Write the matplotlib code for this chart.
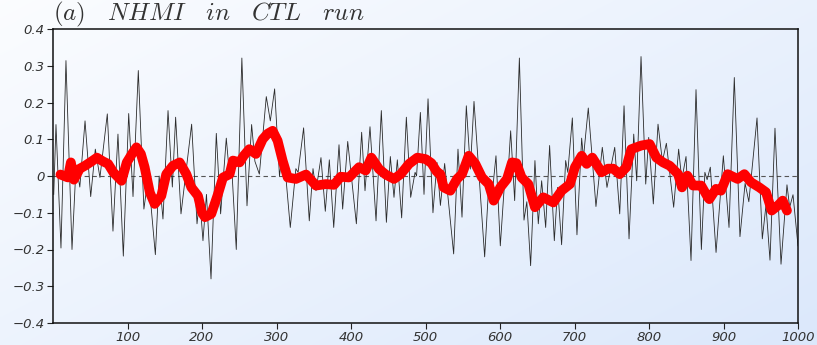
import matplotlib
matplotlib.use("Agg")
import matplotlib.pyplot as plt
import numpy as np

# NHMI in CTL run: turning points of the annual series
ctl_years = [1, 4, 10.7, 17.4, 25.5, 31, 36, 43, 50.6, 56.8, 63, 72.9, 80.5, 87.2,
             94.4, 101.6, 107.4, 114.5, 122, 128, 137.4, 142.5, 147.6, 154.4, 160.2,
             164.6, 171.8, 179, 186.1, 193.3, 197, 201.3, 206, 212.1, 219.2, 225,
             232.6, 237, 240, 246, 253.5, 260.4, 266.6, 271, 277, 286.3, 291.7, 297.5,
             304, 309, 318.5, 326, 329, 336.4, 344, 349, 353, 359.7, 365.5, 370.9,
             376.8, 383.9, 388.8, 395.6, 407.2, 414.3, 418.8, 425.5, 433.6, 440.7,
             447.5, 452.8, 457.7, 462.2, 468, 474.3, 480.1, 486, 488, 493.1, 498,
             503.4, 510, 515.4, 520, 525.7, 537.8, 543.6, 549, 554.8, 560.2, 565.1,
             579.4, 585, 589, 594.6, 600.4, 607, 610, 614.3, 619.7, 626, 632.2, 636,
             641.1, 646.9, 651.4, 655.9, 661.3, 666.6, 672.9, 677.4, 682.7, 688.1,
             691, 697.1, 703.3, 709.6, 712, 718.5, 728.8, 737.3, 743.6, 754, 760.7,
             766.5, 773.2, 779.5, 783.5, 789.3, 795.6, 799.6, 805.8, 812.1, 818,
             823.3, 833.1, 839.8, 844, 849.7, 856.4, 863.1, 870.3, 875, 878, 882.3,
             890, 899.8, 907.4, 914.5, 922.1, 929, 934, 945, 952.1, 957, 962.4,
             969.1, 977.2, 985.2, 988.8, 993.3, 1000]
ctl_vals = [-0.05, 0.14, -0.196, 0.314, -0.2, 0.03, -0.03, 0.15, -0.056, 0.073, -0.004,
            0.169, -0.15, 0.114, -0.218, 0.17, -0.056, 0.287, -0.09, 0.0, -0.214, 0.0,
            -0.117, 0.178, -0.03, 0.16, -0.103, 0.02, 0.141, -0.13, -0.06, -0.176,
            -0.05, -0.28, 0.116, -0.103, 0.103, 0.0, 0.02, -0.2, 0.321, -0.081, 0.14,
            0.04, 0.005, 0.216, 0.15, 0.237, 0.0, 0.08, -0.14, 0.02, 0.01, 0.131,
            -0.122, 0.02, -0.04, 0.05, -0.096, 0.044, -0.14, 0.085, -0.09, 0.094,
            -0.13, 0.119, -0.04, 0.134, -0.122, 0.178, -0.126, 0.053, -0.058, 0.044,
            -0.114, 0.16, -0.058, 0.01, 0.0, 0.173, -0.05, 0.21, -0.1, 0.037, -0.08,
            0.034, -0.212, 0.073, -0.112, 0.191, 0.019, 0.203, -0.22, -0.02, -0.06,
            0.055, -0.19, 0.01, -0.02, 0.123, -0.067, 0.321, -0.12, -0.07, -0.244,
            0.042, -0.13, -0.013, -0.14, 0.083, -0.176, -0.031, -0.187, 0.042, 0.01,
            0.158, -0.16, 0.103, 0.05, 0.185, -0.083, 0.078, -0.031, 0.078, -0.103,
            0.191, -0.171, 0.114, -0.013, 0.325, -0.022, 0.105, -0.076, 0.141, 0.04,
            0.089, -0.085, 0.073, -0.01, 0.053, -0.23, 0.235, -0.2, 0.01, -0.01,
            0.024, -0.208, 0.055, -0.14, 0.268, -0.165, -0.02, -0.07, 0.158, -0.171,
            -0.08, -0.229, 0.13, -0.24, -0.024, -0.085, -0.051, -0.19]

# low-pass filtered index (thick red curve)
smooth_years = [10, 20, 24, 28, 36, 43, 52, 59, 67, 74, 81, 92, 99, 106, 112, 118, 123,
                130, 136.5, 145.4, 152, 161, 170, 179, 185.7, 194.6, 200, 204, 212.5,
                221.5, 228.2, 237.1, 241.6, 250.5, 256, 263.5, 272.4, 281.4, 288, 294.8,
                301.5, 308.2, 315, 326.1, 339.6, 353, 366.4, 377.2, 386.2, 397.3, 410.8,
                419.7, 427.3, 437.6, 446.6, 457.7, 466.7, 477.9, 489, 500.2, 508, 515,
                519.9, 524.4, 533.3, 542.3, 549, 558, 566.9, 575.8, 584.8, 591.5, 600.4,
                609.4, 616.1, 622, 629, 638, 646.9, 658.1, 671.6, 682.7, 693.9, 700.6,
                709.6, 716.3, 723.9, 736.4, 745, 752, 760.7, 769.6, 776.3, 789.7, 800.9,
                809.9, 818.8, 827.8, 839, 844.3, 851.5, 859.1, 870, 879, 881, 890, 896.6,
                905.6, 919, 928, 936.9, 948.1, 957, 964.7, 972.7, 979.4, 985.2]
smooth_vals = [0.004, -0.004, 0.037, -0.01, 0.02, 0.028, 0.04, 0.05, 0.04, 0.033, 0.01,
               -0.013, 0.037, 0.06, 0.078, 0.06, 0.024, -0.045, -0.076, -0.054, 0.005,
               0.028, 0.037, 0.005, -0.031, -0.054, -0.1, -0.112, -0.103, -0.049, -0.004,
               0.005, 0.042, 0.037, 0.055, 0.073, 0.06, 0.1, 0.115, 0.123, 0.096, 0.042,
               -0.004, -0.008, 0.004, -0.026, -0.022, -0.024, -0.002, -0.004, 0.024,
               0.015, 0.05, 0.019, 0.004, -0.008, 0.005, 0.033, 0.05, 0.046, 0.035,
               0.012, 0.005, -0.031, -0.04, -0.008, 0.005, 0.055, 0.033, -0.004, -0.022,
               -0.067, -0.031, -0.008, 0.037, 0.035, -0.004, -0.022, -0.085, -0.058,
               -0.072, -0.04, -0.022, 0.024, 0.055, 0.033, 0.05, 0.01, 0.02, 0.02, 0.005,
               0.024, 0.073, 0.083, 0.087, 0.05, 0.037, 0.028, 0.005, -0.031, 0.001,
               -0.026, -0.026, -0.058, -0.063, -0.035, -0.04, 0.005, -0.008, 0.005,
               -0.017, -0.031, -0.044, -0.094, -0.081, -0.067, -0.094]

xticks = [100, 200, 300, 400, 500, 600, 700, 800, 900, 1000]
yticks = [-0.4, -0.3, -0.2, -0.1, 0, 0.1, 0.2, 0.3, 0.4]
ytick_labels = ["\u22120.4", "\u22120.3", "\u22120.2", "\u22120.1", "0",
                "0.1", "0.2", "0.3", "0.4"]

plt.rcParams["mathtext.fontset"] = "cm"

fig = plt.figure(figsize=(8.17, 3.45), dpi=100)

# pale diagonal gradient behind everything
bg = fig.add_axes([0, 0, 1, 1], zorder=0)
gx, gy = np.meshgrid(np.linspace(0, 1, 256), np.linspace(0, 1, 256))
t = np.clip(0.55 * gx + 0.45 * gy, 0, 1)[..., None]
c0 = np.array([0.985, 0.99, 1.0])
c1 = np.array([0.86, 0.91, 0.985])
bg.imshow(c0 * (1 - t) + c1 * t, aspect="auto", extent=[0, 1, 1, 0])
bg.axis("off")

ax = fig.add_axes([53 / 817, 22 / 345, 745 / 817, 294 / 345], zorder=1)
ax.patch.set_alpha(0)

ax.axhline(0, color="#555555", lw=0.8, ls=(0, (4, 3)), zorder=1)
ax.plot(ctl_years, ctl_vals, color="#2a2a2a", lw=0.6, zorder=2)
ax.plot(smooth_years, smooth_vals, color="#ff0000", lw=7,
        solid_capstyle="round", solid_joinstyle="round", zorder=3)

ax.set_xlim(0, 1000)
ax.set_ylim(-0.4, 0.4)
ax.set_xticks(xticks)
ax.set_xticklabels([str(v) for v in xticks])
ax.set_yticks(yticks)
ax.set_yticklabels(ytick_labels)
ax.tick_params(direction="out", length=4, width=0.8, colors="#222222",
               labelsize=9.5, pad=2)
for lab in ax.get_xticklabels() + ax.get_yticklabels():
    lab.set_fontstyle("italic")
    lab.set_color("#333333")
for s in ax.spines.values():
    s.set_linewidth(1.1)
    s.set_color("#111111")

ax.text(0.0, 1.0, r"$(a)\ \ \ NHMI\ \ \ in\ \ \ CTL\ \ \ run$", transform=ax.transAxes,
        ha="left", va="bottom", fontsize=18, color="#333333")

fig.savefig("out.png", dpi=100)
